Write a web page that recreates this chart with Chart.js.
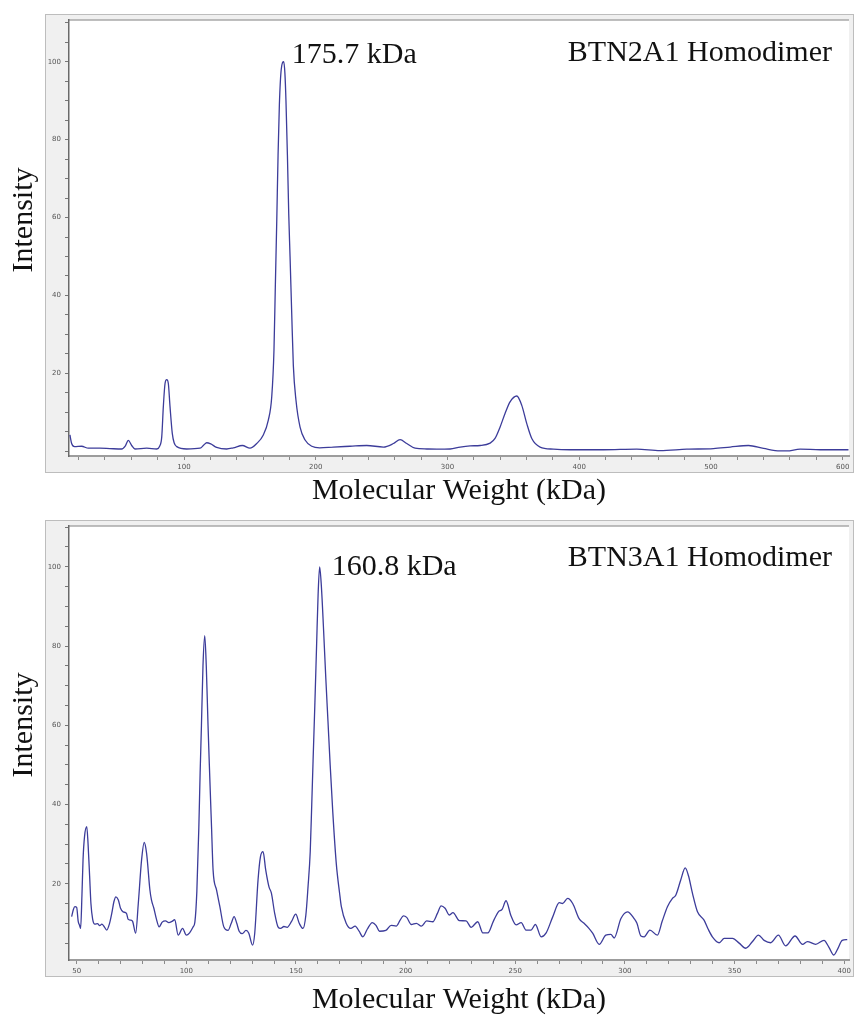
<!DOCTYPE html>
<html>
<head>
<meta charset="utf-8">
<script src="https://cdn.jsdelivr.net/npm/chart.js@4.4.1/dist/chart.umd.min.js"></script>
<style>
  html, body { margin: 0; padding: 0; background: #ffffff; }
  body { width: 854px; height: 1015px; position: relative; overflow: hidden; }
  canvas { position: absolute; left: 0; }
  #btn2a1 { top: 0; }
  #btn3a1 { top: 505px; }
</style>
</head>
<body>
<canvas id="btn2a1" width="854" height="510"></canvas>
<canvas id="btn3a1" width="854" height="510"></canvas>
<script>
// BTN2A1 homodimer spectrum: molecular weight (kDa) and relative intensity
const btn2a1Mw = [
  13.4, 14.7, 16.9, 22.3, 27.4, 36.2, 43.8, 52.7, 55.5, 57.7, 60.3, 62.8, 71.7, 79.3,
  81.5, 83.1, 84.3, 85.6, 86.9, 88.1, 89.4, 91.1, 92.5, 94.5, 102, 112.2, 115, 117.2,
  120.3, 124.8, 132.4, 137.4, 144.3, 150.1, 155.2, 160.2, 164, 166.6, 168.3, 169.3,
  170.4, 171.4, 172.4, 173.8, 175.7, 176.6, 177.4, 178.5, 179.5, 180.5, 181.8, 183,
  185, 188.1, 191.9, 197, 203, 213.4, 226, 238.7, 251.4, 259, 264, 269.1, 275.4,
  284.3, 291.9, 302, 309.6, 317.2, 324.8, 332.4, 336.1, 339.9, 343.7, 347.5, 352.6,
  356.4, 360.2, 364, 370.3, 380.4, 393, 418.4, 443.7, 461.4, 481.7, 501.9, 514.6,
  528.5, 539.9, 552.5, 557.6, 567.7, 582.9, 604.4
];
const btn2a1Intensity = [
  4.2, 2.0, 1.2, 1.3, 0.8, 0.8, 0.7, 0.6, 1.4, 2.8, 1.5, 0.6, 0.8, 0.6,
  1.3, 3.7, 11.4, 17.4, 18.4, 17.4, 11.4, 4.6, 2.2, 1.2, 0.6, 0.8, 1.6, 2.2,
  1.9, 1.0, 0.6, 0.9, 1.5, 0.8, 2.0, 4.2, 8.0, 14, 26, 42,
  59, 76, 89, 98, 100, 97, 90, 76, 61, 50, 35, 22,
  13.1, 6.2, 2.9, 1.3, 0.9, 1.1, 1.3, 1.5, 1.1, 2.0, 3.0, 2.0, 0.8,
  0.6, 0.55, 0.6, 1.1, 1.4, 1.5, 2.1, 3.3, 6.2, 9.7, 12.7, 14.2,
  11.8, 7.1, 3.3, 1.1, 0.55, 0.4, 0.4, 0.55, 0.2, 0.55, 0.7, 1.1,
  1.5, 0.75, 0.1, 0.1, 0.55, 0.4, 0.4
];

// BTN3A1 homodimer spectrum
const btn3a1Mw = [
  47.7, 48.5, 49.2, 50.0, 50.7, 51.3, 51.8, 52.4, 52.9, 53.6, 54.6, 55.2, 55.9, 56.5,
  57.3, 58.3, 59.5, 60.5, 61.5, 62.5, 63.7, 65, 66, 67, 67.9, 69, 70, 71.2, 72.7, 73.5,
  74.6, 75.5, 76.9, 78.1, 79.6, 80.8, 81.9, 83.4, 84.1, 85.2, 86.4, 87.6, 89, 90.5, 92,
  93.5, 94.7, 96.3, 98.3, 100, 101.5, 103.1, 103.9, 104.8, 105.7, 106.3, 106.9, 107.6,
  108.4, 109.1, 109.9, 110.5, 111.5, 112.2, 113.8, 115.3, 117.1, 119, 120.5, 121.8, 123,
  124.1, 125.5, 127.2, 128.5, 130.2, 131.2, 132.7, 133.8, 135, 136.2, 137.7, 138.8,
  140.3, 141.8, 143, 144.5, 146, 148, 149.9, 151.5, 153.2, 154.5, 155.5, 156.5, 157.2,
  157.8, 158.6, 159.4, 160.1, 160.8, 161.6, 162.6, 163.6, 164.6, 165.6, 166.8, 168.4,
  169.9, 170.7, 172.9, 175, 177, 178.8, 180.5, 182.5, 184.8, 186.5, 188.1, 191, 193.4,
  195.7, 197.5, 199, 200.5, 202.6, 204.9, 207.2, 209.6, 212.4, 214.5, 216.2, 218, 220,
  221.6, 224.5, 227.6, 229.9, 232.9, 235.2, 237.5, 240, 242.3, 244, 245.8, 248, 250.4,
  252.7, 254.9, 257.2, 259.2, 261.8, 264.1, 267, 270.1, 271.6, 273.9, 276.2, 279.2,
  281.4, 283.5, 285.3, 288.3, 291.3, 293.6, 295.1, 298.2, 301.2, 304.2, 305.5, 307.3,
  308.8, 311.4, 314.8, 317, 319.4, 321.7, 323.2, 325.5, 327.5, 329, 330.8, 333.1, 336.1,
  338, 339.9, 343, 345.3, 349.1, 352.1, 355.1, 358.2, 360.9, 363.5, 366.5, 370, 373.3,
  377.6, 381, 383.2, 387, 390.8, 393, 395.3, 397, 399.1, 401.4
];
const btn3a1Intensity = [
  11.7, 13.5, 14.2, 14.0, 10.5, 9.5, 8.7, 17, 26, 32, 34.4, 30, 22, 15,
  11, 9.8, 9.9, 9.4, 9.8, 9.2, 8.3, 10, 12.5, 15.5, 16.7, 15.9, 13.8, 12.9, 12.5, 11,
  10.8, 10.5, 7.5, 15, 26, 30.4, 27.6, 18.4, 15.9, 13.8, 11, 9.1, 10.3, 10.6, 10.2,
  10.5, 10.9, 7.0, 8.7, 7.0, 7.6, 9.1, 10.3, 18, 34, 48, 60, 75,
  82.6, 75, 60, 50, 34.3, 23.5, 18.4, 14.2, 9.1, 8.2, 10, 11.7, 10,
  8.0, 7.4, 8.2, 7.5, 4.5, 7.5, 20.9, 26.8, 28.1, 23.5, 19.2, 17.6,
  12.5, 9.1, 8.7, 9.2, 9.0, 10.5, 12.3, 10, 8.7, 12, 19.2, 28, 40,
  51, 65, 80, 93, 100, 95, 84, 72, 61, 50, 38, 25,
  17.6, 14.2, 10, 8.7, 9.3, 8, 6.6, 8.5, 10.2, 9.5, 8, 8.2, 9.5,
  9.3, 10.8, 11.9, 11.5, 9.7, 10, 9.3, 10.6, 10.4, 12.5, 14.4, 13.8, 12.1,
  12.7, 10.7, 10.6, 9.0, 10.4, 7.6, 7.6, 10.5, 12.9, 13.5, 15.7, 12, 9.6,
  10.2, 8.3, 8.3, 9.7, 6.6, 7.6, 11.5, 15.2, 15.0, 16.3, 15.0, 11.1,
  10, 8.8, 7.5, 4.7, 7.0, 7.2, 6.3, 11.2, 12.9, 11.2, 10, 6.8,
  6.6, 8.3, 7.0, 10.5, 14.2, 16.3, 17.1, 21, 24.0, 22, 17.6, 12.9, 10.8,
  8.5, 6.6, 5.1, 6.2, 6.2, 5.0, 3.7, 5.4, 7.0, 5.7, 5.1, 7.0, 4.3,
  6.8, 4.7, 5.4, 4.7, 5.7, 4.0, 2.0, 3.5, 5.7, 5.9
];

// Axis tick labels
const intensityLabels = [20, 40, 60, 80, 100];
const btn2a1MwLabels = [100, 200, 300, 400, 500, 600];
const btn3a1MwLabels = [50, 100, 150, 200, 250, 300, 350, 400];

const SERIF = "'Times New Roman', 'Liberation Serif', serif";
const TICK_FONT = { family: "'DejaVu Sans', sans-serif", size: 7 };

function stepList(from, to, step) {
  const out = [];
  for (let v = from; v <= to + 1e-9; v += step) out.push(Math.round(v * 100) / 100);
  return out;
}

// Grey instrument-style frame behind the plot, plus the large serif captions
const spectrumFrame = {
  id: 'spectrumFrame',
  beforeDraw(chart) {
    const { ctx, chartArea: a } = chart;
    ctx.save();
    ctx.fillStyle = '#f0f0f0';
    ctx.fillRect(45, a.top - 5, 808, a.bottom - a.top + 22);
    ctx.strokeStyle = '#bdbdbd';
    ctx.lineWidth = 1;
    ctx.strokeRect(45.5, a.top - 5.5, 808, a.bottom - a.top + 22);
    ctx.fillStyle = '#ffffff';
    ctx.fillRect(a.left, a.top, a.right - a.left, a.bottom - a.top);
    ctx.strokeStyle = '#a8a8a8';
    ctx.lineWidth = 1.5;
    ctx.beginPath();
    ctx.moveTo(a.left, a.top);
    ctx.lineTo(a.right, a.top);
    ctx.stroke();
    ctx.restore();
  },
  afterDraw(chart, args, o) {
    const { ctx, chartArea: a, scales } = chart;
    ctx.save();
    ctx.fillStyle = '#111111';
    ctx.font = `30px ${SERIF}`;
    ctx.textBaseline = 'alphabetic';

    // peak annotation
    const px = scales.x.getPixelForValue(o.peak.x) + o.peakDx;
    const py = scales.y.getPixelForValue(o.peak.y) + o.peakDy;
    ctx.textAlign = 'left';
    ctx.fillText(`${o.peak.x.toFixed(1)} kDa`, px, py);

    // sample name
    ctx.textAlign = 'right';
    ctx.fillText(o.name, 832, 61);

    // x axis title
    ctx.textAlign = 'center';
    ctx.fillText('Molecular Weight (kDa)', (a.left + a.right) / 2, o.xTitleY);

    // y axis title
    ctx.translate(32, 220);
    ctx.rotate(-Math.PI / 2);
    ctx.textAlign = 'center';
    ctx.fillText('Intensity', 0, 0);
    ctx.restore();
  }
};

function spectrumChart(id, cfg) {
  const points = cfg.mw.map((m, i) => ({ x: m, y: cfg.intensity[i] }));
  let pk = 0;
  cfg.intensity.forEach((v, i) => { if (v > cfg.intensity[pk]) pk = i; });

  const xMinor = stepList(cfg.xStep * Math.ceil(cfg.xMin / cfg.xStep), cfg.xMax, cfg.xStep);
  const yMinor = stepList(5 * Math.ceil(cfg.yMin / 5), cfg.yMax, 5);

  return new Chart(document.getElementById(id), {
    type: 'line',
    data: {
      datasets: [{
        data: points,
        borderColor: '#3c3c9a',
        borderWidth: 1.3,
        pointRadius: 0,
        fill: false,
        cubicInterpolationMode: 'monotone'
      }]
    },
    options: {
      responsive: false,
      animation: false,
      devicePixelRatio: 1,
      events: [],
      layout: { padding: { left: 45, right: 5, top: cfg.top, bottom: 510 - cfg.bottom - 17 } },
      plugins: {
        legend: { display: false },
        tooltip: { enabled: false },
        spectrumFrame: {
          name: cfg.name,
          peak: points[pk],
          peakDx: cfg.peakDx,
          peakDy: cfg.peakDy,
          xTitleY: cfg.xTitleY
        }
      },
      scales: {
        x: {
          type: 'linear',
          min: cfg.xMin,
          max: cfg.xMax,
          afterFit: s => { s.height = 17; s.paddingLeft = 0; s.paddingRight = 0; },
          afterBuildTicks: s => { s.ticks = xMinor.map(v => ({ value: v })); },
          ticks: {
            autoSkip: false,
            maxRotation: 0,
            padding: 3,
            font: TICK_FONT,
            color: '#555555',
            callback: v => cfg.xLabels.includes(v) ? String(v) : ''
          },
          grid: { drawOnChartArea: false, drawTicks: true, tickLength: 4, tickColor: '#8a8a8a' },
          border: { display: true, color: '#9c9c9c', width: 2 }
        },
        y: {
          type: 'linear',
          min: cfg.yMin,
          max: cfg.yMax,
          afterFit: s => { s.width = 24; s.paddingTop = 0; s.paddingBottom = 0; },
          afterBuildTicks: s => { s.ticks = yMinor.map(v => ({ value: v })); },
          ticks: {
            autoSkip: false,
            padding: 4,
            font: TICK_FONT,
            color: '#555555',
            callback: v => intensityLabels.includes(v) ? String(v) : ''
          },
          grid: { drawOnChartArea: false, drawTicks: true, tickLength: 4, tickColor: '#777777' },
          border: { display: true, color: '#6a6a6a', width: 1.5 }
        }
      }
    },
    plugins: [spectrumFrame]
  });
}

spectrumChart('btn2a1', {
  name: 'BTN2A1 Homodimer',
  mw: btn2a1Mw,
  intensity: btn2a1Intensity,
  xLabels: btn2a1MwLabels,
  xMin: 12.7, xMax: 604.8, xStep: 20,
  yMin: -1.2, yMax: 110.7,
  top: 20, bottom: 456,
  peakDx: 8, peakDy: 1,
  xTitleY: 499
});

spectrumChart('btn3a1', {
  name: 'BTN3A1 Homodimer',
  mw: btn3a1Mw,
  intensity: btn3a1Intensity,
  xLabels: btn3a1MwLabels,
  xMin: 46.5, xMax: 402.2, xStep: 10,
  yMin: 0.74, yMax: 110.3,
  top: 21, bottom: 455,
  peakDx: 12, peakDy: 8,
  xTitleY: 503
});
</script>
</body>
</html>
